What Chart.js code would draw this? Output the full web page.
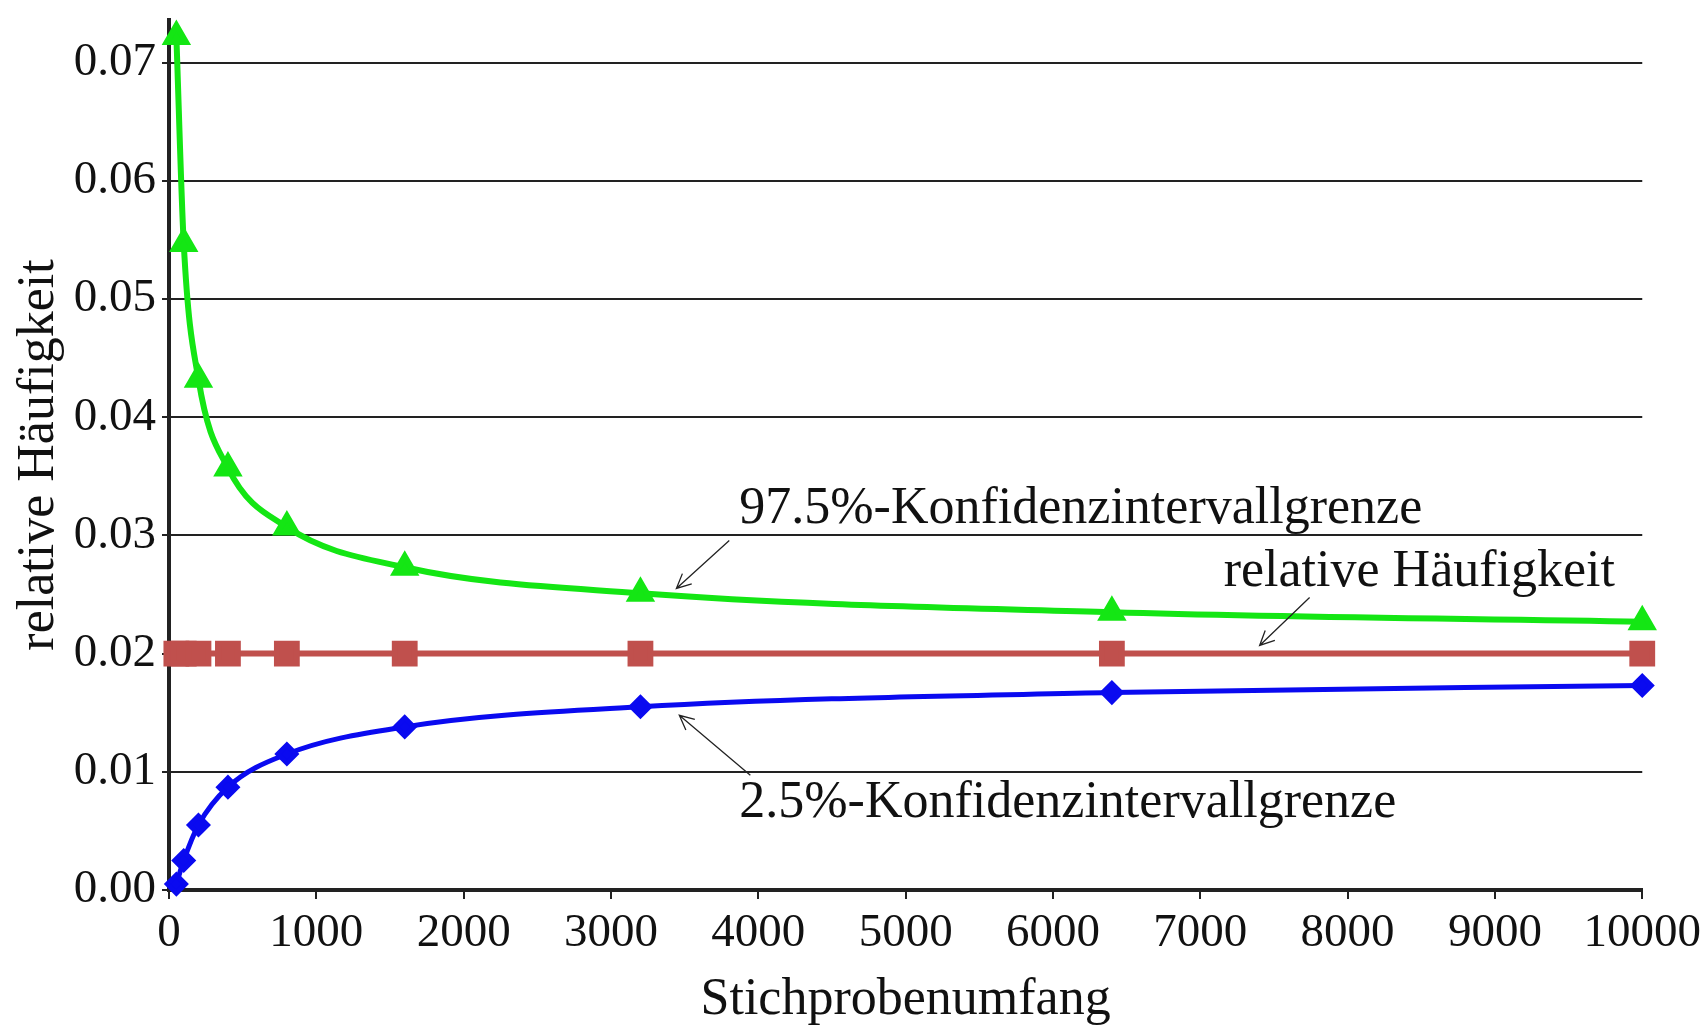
<!DOCTYPE html>
<html lang="de">
<head>
<meta charset="utf-8">
<title>Konfidenzintervall</title>
<script src="https://cdn.jsdelivr.net/npm/chart.js@4/dist/chart.umd.min.js"></script>
<style>
  html, body { margin: 0; padding: 0; background: #fff; }
  #wrap { width: 1707px; height: 1026px; }
</style>
</head>
<body>
<div id="wrap"><canvas id="grafico" width="1707" height="1026"></canvas></div>
<script>
// Stichprobenumfang
const umfang = [50, 100, 200, 400, 800, 1600, 3200, 6400, 10000];
// 97.5%-Grenze
const obereGrenze = [0.0722, 0.0547, 0.0432, 0.0357, 0.0307, 0.0273, 0.0251, 0.0235, 0.0227];
// relative Haeufigkeit
const relHaeufigkeit = [0.02, 0.02, 0.02, 0.02, 0.02, 0.02, 0.02, 0.02, 0.02];
// 2.5%-Grenze
const untereGrenze = [0.0005, 0.0025, 0.0055, 0.0087, 0.0115, 0.0138, 0.0155, 0.0167, 0.0173];

const xTicks = [0, 1000, 2000, 3000, 4000, 5000, 6000, 7000, 8000, 9000, 10000];
const yTicks = [0, 0.01, 0.02, 0.03, 0.04, 0.05, 0.06, 0.07];

// Beschriftungen im Diagramm (Position in Datenwerten)
const notizText = ["97.5%-Konfidenzintervallgrenze", "relative Häufigkeit", "2.5%-Konfidenzintervallgrenze"];
const notizX = [3871, 7159, 3871];
const notizY = [0.0322, 0.0269, 0.00735];
// Pfeile: Start -> Spitze
const pfeilVon = [[3803, 0.02956], [7742, 0.02475], [3946, 0.00971]];
const pfeilNach = [[3444, 0.02551], [7403, 0.02069], [3464, 0.01478]];

const serif = "'Liberation Serif', 'Times New Roman', serif";
const ctx = document.getElementById("grafico").getContext("2d");

function punkte(werte) {
  return umfang.map((n, i) => ({ x: n, y: werte[i] }));
}

const notizPlugin = {
  id: "notizen",
  afterDraw(chart) {
    const c = chart.ctx;
    const xs = chart.scales.x;
    const ys = chart.scales.y;
    c.save();
    c.fillStyle = "#111";
    c.font = "52px " + serif;
    c.textBaseline = "middle";
    c.textAlign = "left";
    notizText.forEach((t, i) => {
      c.fillText(t, xs.getPixelForValue(notizX[i]), ys.getPixelForValue(notizY[i]));
    });
    c.strokeStyle = "#222";
    c.lineWidth = 1.3;
    pfeilVon.forEach((von, i) => {
      const x1 = xs.getPixelForValue(von[0]);
      const y1 = ys.getPixelForValue(von[1]);
      const x2 = xs.getPixelForValue(pfeilNach[i][0]);
      const y2 = ys.getPixelForValue(pfeilNach[i][1]);
      const w = Math.atan2(y2 - y1, x2 - x1);
      const len = 16;
      c.beginPath();
      c.moveTo(x1, y1);
      c.lineTo(x2, y2);
      c.moveTo(x2 - len * Math.cos(w - 0.45), y2 - len * Math.sin(w - 0.45));
      c.lineTo(x2, y2);
      c.lineTo(x2 - len * Math.cos(w + 0.45), y2 - len * Math.sin(w + 0.45));
      c.stroke();
    });
    c.restore();
  },
};

new Chart(ctx, {
  type: "line",
  data: {
    datasets: [
      {
        label: "97.5%-Konfidenzintervallgrenze",
        data: punkte(obereGrenze),
        borderColor: "#14e614",
        backgroundColor: "#14e614",
        borderWidth: 6,
        pointStyle: "triangle",
        pointRadius: 11,
        cubicInterpolationMode: "monotone",
        clip: false,
      },
      {
        label: "relative Häufigkeit",
        data: punkte(relHaeufigkeit),
        borderColor: "#c0504d",
        backgroundColor: "#c0504d",
        borderWidth: 6,
        pointStyle: "rect",
        pointRadius: 14,
        clip: false,
      },
      {
        label: "2.5%-Konfidenzintervallgrenze",
        data: punkte(untereGrenze),
        borderColor: "#0a0af0",
        backgroundColor: "#0a0af0",
        borderWidth: 5,
        pointStyle: "rectRot",
        pointRadius: 9,
        cubicInterpolationMode: "monotone",
        clip: false,
      },
    ],
  },
  options: {
    responsive: false,
    animation: false,
    layout: { padding: { top: 2, right: 63, left: 8, bottom: 0 } },
    plugins: {
      legend: { display: false },
      tooltip: { enabled: false },
    },
    scales: {
      x: {
        type: "linear",
        min: 0,
        max: 10000,
        afterBuildTicks: (s) => { s.ticks = xTicks.map((v) => ({ value: v })); },
        afterFit: (s) => { s.height = 136; },
        ticks: {
          color: "#111",
          font: { family: serif, size: 47 },
          padding: 6,
          maxRotation: 0,
          autoSkip: false,
          callback: (v) => String(v),
        },
        grid: { drawOnChartArea: false, color: "#222", lineWidth: 2, tickLength: 9 },
        border: { color: "#222", width: 4 },
        title: {
          display: true,
          text: "Stichprobenumfang",
          color: "#111",
          font: { family: serif, size: 52, lineHeight: 1 },
          padding: { top: 0, bottom: 0 },
        },
      },
      y: {
        min: 0,
        max: 0.0736,
        afterBuildTicks: (s) => { s.ticks = yTicks.map((v) => ({ value: v })); },
        afterFit: (s) => { s.width = 161; s.paddingTop = 0; s.paddingBottom = 0; },
        ticks: {
          color: "#111",
          font: { family: serif, size: 47 },
          padding: 6,
          callback: (v) => v.toFixed(2),
        },
        grid: { color: "#222", lineWidth: 2, tickLength: 7 },
        border: { color: "#222", width: 4 },
        title: {
          display: true,
          text: "relative Häufigkeit",
          color: "#111",
          font: { family: serif, size: 52 },
          padding: { top: 0, bottom: 0 },
        },
      },
    },
  },
  plugins: [notizPlugin],
});
</script>
</body>
</html>
